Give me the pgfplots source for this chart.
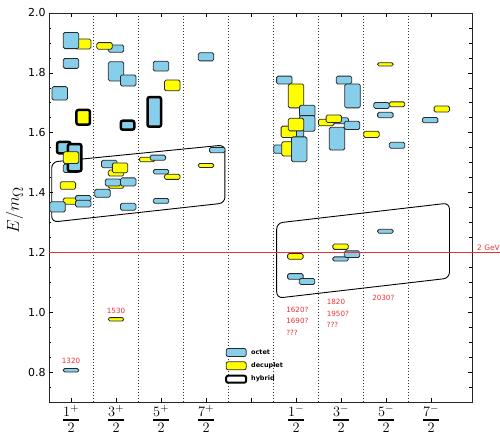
\documentclass[border=0pt]{standalone}
\usepackage{amsmath}
\usepackage{pgfplots}
\pgfplotsset{compat=1.18}
\usepackage{fontspec}
\setmainfont{DejaVu Sans}
\definecolor{skyb}{RGB}{135,206,235}
\definecolor{ylw}{RGB}{255,255,0}
\definecolor{redl}{RGB}{235,50,50}
\definecolor{edge}{RGB}{40,40,40}
\pgfplotsset{
 O/.style={fill=skyb, draw=edge, line width=0.8pt, rounded corners=1.5pt, forget plot},
 D/.style={fill=ylw, draw=edge, line width=0.8pt, rounded corners=1.5pt, forget plot},
 HO/.style={fill=skyb, draw=black, line width=2.5pt, rounded corners=2pt, forget plot},
 HD/.style={fill=ylw, draw=black, line width=2.5pt, rounded corners=2pt, forget plot},
 VL/.style={black!80, line width=0.7pt, dash pattern=on 0.7pt off 2.3pt, forget plot},
}
\newcommand{\bx}[5]{\addplot[#1] coordinates {(#2,#4) (#3,#4) (#3,#5) (#2,#5)} -- cycle;}
\begin{document}
\begin{tikzpicture}
\useasboundingbox (-49bp,-36bp) rectangle (451bp,402bp);
\begin{axis}[
 scale only axis, width=423bp, height=389bp,
 at={(0,0)}, anchor=south west,
 xmin=-0.49, xmax=8.91, ymin=0.7, ymax=2.0,
 clip=false,
 axis line style={line width=0.9pt, black!85},
 xtick={0,1,2,3,4,5,6,7,8},
 xticklabels={{$\genfrac{}{}{1.6pt}{1}{1^+}{2}$},{$\genfrac{}{}{1.6pt}{1}{3^+}{2}$},{$\genfrac{}{}{1.6pt}{1}{5^+}{2}$},{$\genfrac{}{}{1.6pt}{1}{7^+}{2}$},{},{$\genfrac{}{}{1.6pt}{1}{1^-}{2}$},{$\genfrac{}{}{1.6pt}{1}{3^-}{2}$},{$\genfrac{}{}{1.6pt}{1}{5^-}{2}$},{$\genfrac{}{}{1.6pt}{1}{7^-}{2}$}},
 xticklabel style={font=\fontsize{21}{21}\selectfont, inner sep=1pt, yshift=-2bp},
 ytick={0.8,1.0,1.2,1.4,1.6,1.8,2.0},
 minor ytick={0.75,0.85,0.9,0.95,1.05,1.1,1.15,1.25,1.3,1.35,1.45,1.5,1.55,1.65,1.7,1.75,1.85,1.9,1.95},
 /pgf/number format/assume math mode=true,
 yticklabel style={font=\fontsize{11}{13}\selectfont, /pgf/number format/fixed, /pgf/number format/fixed zerofill, /pgf/number format/precision=1},
 major tick length=4bp, minor tick length=2.5bp,
 tick style={black, line width=0.6pt},
 ylabel={$E/m_\Omega$},
 ylabel style={font=\fontsize{19}{19}\selectfont, at={(axis description cs:-0.071,0.494)}, anchor=base},
 legend style={at={(0.416,0.139)}, anchor=north west, draw=none, fill=none, font=\fontsize{6.5}{7}\selectfont\bfseries, row sep=4.5bp, column sep=3bp, inner sep=0pt, nodes={inner sep=1bp}},
 legend cell align=left,
]
\addlegendimage{legend image code/.code={\draw[fill=skyb, draw=edge, line width=0.8pt, rounded corners=2pt] (0bp,-4bp) rectangle (20bp,4bp);}}
\addlegendimage{legend image code/.code={\draw[fill=ylw, draw=edge, line width=0.8pt, rounded corners=2pt] (0bp,-4bp) rectangle (20bp,4bp);}}
\addlegendimage{legend image code/.code={\draw[fill=white, draw=black, line width=2pt, rounded corners=2pt] (0bp,-3.5bp) rectangle (20bp,3.5bp);}}
\legend{octet,decuplet,hybrid}
% dotted separators
\addplot[VL] coordinates {(0.5,0.7) (0.5,2.0)};
\addplot[VL] coordinates {(1.5,0.7) (1.5,2.0)};
\addplot[VL] coordinates {(2.5,0.7) (2.5,2.0)};
\addplot[VL] coordinates {(3.5,0.7) (3.5,2.0)};
\addplot[VL] coordinates {(4.5,0.7) (4.5,2.0)};
\addplot[VL] coordinates {(5.5,0.7) (5.5,2.0)};
\addplot[VL] coordinates {(6.5,0.7) (6.5,2.0)};
\addplot[VL] coordinates {(7.5,0.7) (7.5,2.0)};
% outlines
\addplot[black, line width=0.9pt, rounded corners=6pt, forget plot] coordinates {(-0.43,1.40) (-0.43,1.502) (3.42,1.559) (3.42,1.365) (-0.43,1.301)} -- cycle;
\addplot[black, line width=0.9pt, rounded corners=6pt, forget plot] coordinates {(4.57,1.17) (4.57,1.298) (8.41,1.365) (8.41,1.114) (4.57,1.047)} -- cycle;
% column 1/2+
\bx{D}{0.098}{0.442}{1.880}{1.913}
\bx{O}{-0.172}{0.172}{1.881}{1.935}
\bx{O}{-0.172}{0.172}{1.815}{1.848}
\bx{O}{-0.422}{-0.078}{1.709}{1.754}
\bx{HD}{0.12}{0.42}{1.627}{1.676}
\bx{HO}{-0.31}{-0.01}{1.531}{1.569}
\bx{O}{-0.172}{0.172}{1.467}{1.495}
\bx{HO}{-0.07}{0.23}{1.471}{1.562}
\bx{D}{-0.172}{0.172}{1.497}{1.536}
\bx{D}{-0.242}{0.102}{1.411}{1.436}
\bx{D}{-0.172}{0.172}{1.361}{1.382}
\bx{O}{0.098}{0.442}{1.372}{1.390}
\bx{O}{0.098}{0.442}{1.352}{1.374}
\bx{O}{-0.472}{-0.128}{1.335}{1.369}
\bx{O}{-0.172}{0.172}{0.800}{0.812}
% column 3/2+
\bx{O}{0.828}{1.172}{1.869}{1.893}
\bx{D}{0.573}{0.917}{1.879}{1.901}
\bx{O}{0.828}{1.172}{1.773}{1.837}
\bx{O}{1.098}{1.442}{1.756}{1.793}
\bx{HO}{1.105}{1.405}{1.610}{1.640}
\bx{O}{0.678}{1.022}{1.483}{1.508}
\bx{D}{0.828}{1.172}{1.455}{1.475}
\bx{D}{0.918}{1.262}{1.466}{1.499}
\bx{D}{0.828}{1.172}{1.414}{1.433}
\bx{O}{0.758}{1.102}{1.422}{1.445}
\bx{O}{1.098}{1.442}{1.422}{1.449}
\bx{O}{0.528}{0.872}{1.384}{1.411}
\bx{O}{1.098}{1.442}{1.341}{1.364}
\bx{D}{0.828}{1.172}{0.971}{0.982}
% column 5/2+
\bx{O}{1.828}{2.172}{1.806}{1.839}
\bx{D}{2.078}{2.422}{1.740}{1.776}
\bx{HO}{1.70}{2.00}{1.620}{1.719}
\bx{D}{1.518}{1.862}{1.503}{1.518}
\bx{O}{1.758}{2.102}{1.508}{1.525}
\bx{O}{1.828}{2.172}{1.462}{1.477}
\bx{D}{2.078}{2.422}{1.444}{1.461}
\bx{O}{1.828}{2.172}{1.364}{1.380}
% column 7/2+
\bx{O}{2.828}{3.172}{1.840}{1.867}
\bx{D}{2.828}{3.172}{1.484}{1.497}
\bx{O}{3.078}{3.422}{1.533}{1.551}
% column 1/2-
\bx{O}{4.568}{4.912}{1.763}{1.789}
\bx{D}{4.828}{5.172}{1.683}{1.763}
\bx{O}{5.078}{5.422}{1.653}{1.692}
\bx{O}{5.078}{5.422}{1.605}{1.657}
\bx{O}{4.828}{5.172}{1.585}{1.610}
\bx{D}{4.668}{5.012}{1.584}{1.622}
\bx{D}{4.828}{5.172}{1.606}{1.648}
\bx{O}{4.503}{4.847}{1.531}{1.559}
\bx{D}{4.683}{5.027}{1.522}{1.570}
\bx{O}{4.898}{5.242}{1.503}{1.586}
% column 3/2-
\bx{O}{5.893}{6.237}{1.763}{1.789}
\bx{O}{6.083}{6.427}{1.683}{1.763}
\bx{D}{5.498}{5.842}{1.623}{1.645}
\bx{O}{5.823}{6.167}{1.630}{1.650}
\bx{D}{5.668}{6.012}{1.634}{1.659}
\bx{O}{6.073}{6.417}{1.611}{1.638}
\bx{O}{5.738}{6.082}{1.542}{1.618}
% column 5/2-
\bx{D}{6.813}{7.157}{1.823}{1.834}
\bx{O}{6.728}{7.072}{1.681}{1.701}
\bx{D}{7.073}{7.417}{1.687}{1.703}
\bx{O}{6.813}{7.157}{1.650}{1.668}
\bx{D}{6.503}{6.847}{1.584}{1.605}
\bx{O}{7.073}{7.417}{1.548}{1.568}
\bx{O}{6.813}{7.157}{1.264}{1.277}
% column 7/2-
\bx{D}{8.068}{8.412}{1.669}{1.689}
\bx{O}{7.808}{8.152}{1.633}{1.651}
% lower negative-parity states
\bx{D}{5.818}{6.162}{1.210}{1.228}
\bx{O}{5.818}{6.162}{1.171}{1.185}
\bx{O}{6.073}{6.417}{1.183}{1.205}
\bx{D}{4.813}{5.157}{1.177}{1.196}
\bx{O}{4.813}{5.157}{1.110}{1.129}
\bx{O}{5.073}{5.417}{1.093}{1.113}
% 2 GeV line
\addplot[redl, line width=1.2pt, forget plot] coordinates {(-0.49,1.2) (9.6,1.2)};
% annotations
\begin{scope}[every node/.style={text=redl, font=\fontsize{7.2}{8}\selectfont, inner sep=0pt}]
\node[anchor=center] at (axis cs:0,0.839) {1320};
\node[anchor=center] at (axis cs:1,1.003) {1530};
\node[anchor=west] at (axis cs:4.78,1.009) {1620?};
\node[anchor=west] at (axis cs:4.78,0.971) {1690?};
\node[anchor=west] at (axis cs:4.78,0.931) {???};
\node[anchor=west] at (axis cs:5.68,1.034) {1820};
\node[anchor=west] at (axis cs:5.68,0.996) {1950?};
\node[anchor=west] at (axis cs:5.68,0.957) {???};
\node[anchor=center] at (axis cs:6.94,1.048) {2030?};
\node[anchor=west, font=\fontsize{7.5}{8}\selectfont] at (axis cs:9.02,1.214) {2 GeV};
\end{scope}
\end{axis}
\end{tikzpicture}
\end{document}
